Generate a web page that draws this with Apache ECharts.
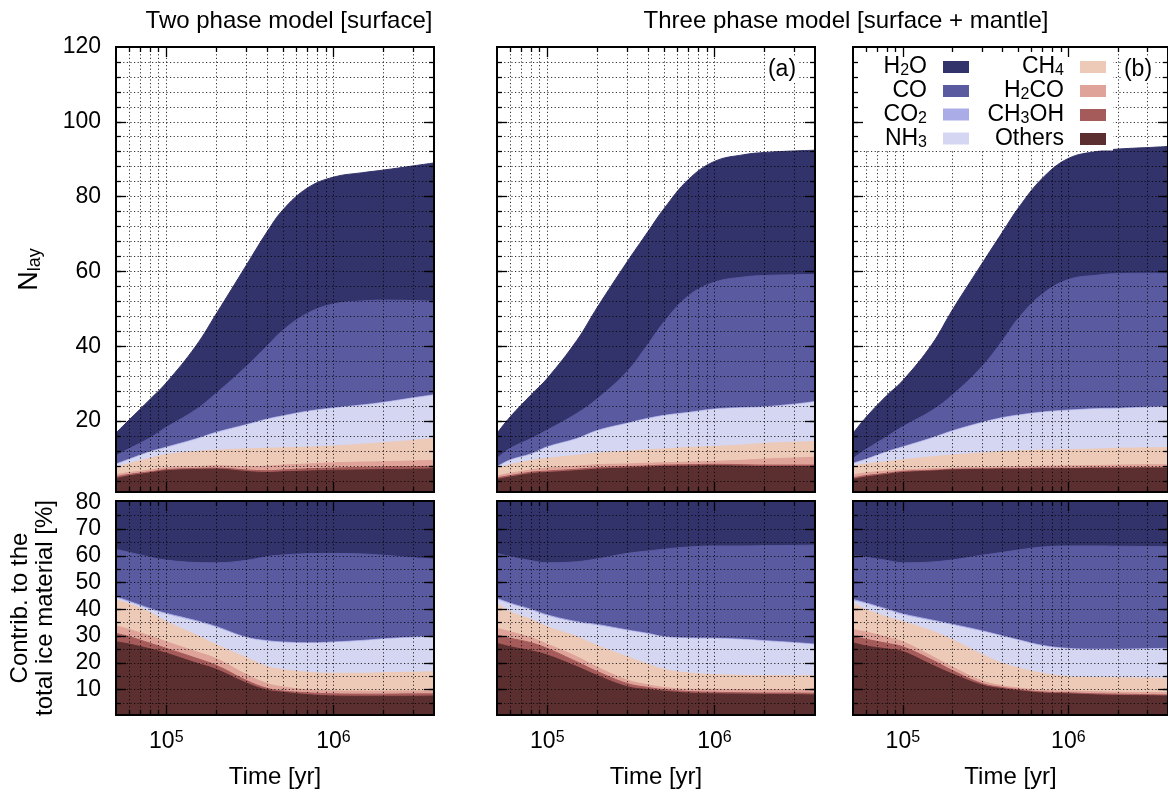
<!DOCTYPE html>
<html>
<head>
<meta charset="utf-8">
<script src="https://cdn.jsdelivr.net/npm/echarts@6.0.0/dist/echarts.min.js"></script>
<style>
html,body{margin:0;padding:0;background:#ffffff;}
#chart{width:1168px;height:792px;}
</style>
</head>
<body>
<div id="chart"></div>
<script>
// ================= DATA =================
const times = [5e4, 6e4, 8e4, 1e5, 1.5e5, 2e5, 3e5, 4e5, 5e5, 7e5, 1e6, 1.5e6, 2e6, 3e6, 4e6];
const species = ['H2O', 'CO', 'CO2', 'NH3', 'CH4', 'H2CO', 'CH3OH', 'Others'];
const xMajorTicks = [1e5, 1e6];
const xMinorTicks = [6e4, 7e4, 8e4, 9e4, 2e5, 3e5, 4e5, 5e5, 6e5, 7e5, 8e5, 9e5, 2e6, 3e6];
const nlayLabels = [20, 40, 60, 80, 100, 120];
const pctLabels = [10, 20, 30, 40, 50, 60, 70, 80];

// --- Two phase model, N_lay ---
const two_N_H2O   = [6.1, 7.7, 10.3, 11.9, 17, 21.3, 27, 30.5, 32.2, 33.5, 33.9, 34.3, 34.8, 36, 37];
const two_N_CO    = [2.2, 2.8, 3.7, 5.3, 7.8, 10.5, 15.5, 19.5, 22.9, 26.2, 27.8, 27.8, 27.3, 26.0, 25.0];
const two_N_CO2   = [0.2, 0.2, 0.2, 0.2, 0.2, 0.2, 0.2, 0.2, 0.2, 0.2, 0.2, 0.2, 0.2, 0.2, 0.2];
const two_N_NH3   = [0.7, 1.0, 1.6, 1.8, 3.2, 4.6, 6.3, 7.6, 8.4, 9.4, 10.0, 10.3, 10.6, 11.2, 11.5];
const two_N_CH4   = [1.9, 2.4, 3.1, 3.5, 4.0, 4.2, 4.7, 4.8, 4.6, 4.5, 4.5, 4.8, 5.1, 5.5, 5.8];
const two_N_H2CO  = [0.6, 0.5, 0.5, 0.5, 0.5, 0.6, 0.9, 1.2, 1.3, 1.3, 1.4, 1.4, 1.4, 1.5, 1.6];
const two_N_CH3OH = [0.5, 0.4, 0.3, 0.3, 0.3, 0.3, 0.4, 0.5, 0.5, 0.6, 0.6, 0.7, 0.7, 0.7, 0.7];
const two_N_Others= [4.6, 5.3, 6.1, 6.7, 7.0, 7.1, 6.5, 6.2, 6.4, 6.6, 6.8, 6.9, 7.0, 7.1, 7.2];
// --- Two phase model, contribution [%] ---
const two_P_H2O   = [37.6, 38.7, 40.5, 41.6, 42.5, 42.6, 41.7, 40.3, 39.7, 39.2, 39.1, 39.3, 39.8, 40.7, 41.2];
const two_P_CO    = [17.7, 18.3, 19.2, 19.9, 21.7, 23.9, 28.7, 31.4, 32.5, 33.3, 33.1, 32.3, 31.2, 29.7, 29];
const two_P_CO2   = [0.5, 0.4, 0.4, 0.4, 0.4, 0.4, 0.3, 0.3, 0.3, 0.3, 0.3, 0.3, 0.3, 0.3, 0.3];
const two_P_NH3   = [0.7, 0.6, 1.1, 2.7, 4.9, 6.4, 7.3, 9.4, 10, 10.7, 11.4, 12, 12.4, 12.8, 12.8];
const two_P_CH4   = [9.7, 9.5, 8.8, 7.5, 6.3, 5.2, 6.3, 6.3, 6.5, 6.6, 6.6, 6.7, 6.9, 7.0, 7.2];
const two_P_H2CO  = [2.8, 2.7, 2.7, 2.5, 2.4, 2.5, 2.2, 1.8, 1.5, 1.1, 1.1, 1.1, 1.1, 1.1, 1.1];
const two_P_CH3OH = [3.1, 2.8, 2.1, 1.8, 1.8, 1.5, 1.0, 0.7, 0.5, 0.7, 0.8, 0.8, 0.8, 0.9, 0.8];
const two_P_Others= [27.9, 27, 25.2, 23.6, 20, 17.5, 12.5, 9.8, 9, 8.1, 7.6, 7.5, 7.5, 7.5, 7.6];

// --- Three phase model (a), N_lay ---
const threeA_N_H2O   = [6.7, 8.4, 11.7, 13.8, 19.5, 24.5, 29.3, 30.1, 30.3, 31.1, 32.3, 32.7, 32.9, 33.1, 33.2];
const threeA_N_CO    = [2.2, 3.1, 4.1, 4.5, 6.7, 8.5, 13.8, 19.8, 25, 31.2, 33.9, 34.9, 35.1, 34.6, 34];
const threeA_N_CO2   = [0.2, 0.2, 0.2, 0.2, 0.2, 0.2, 0.2, 0.2, 0.2, 0.2, 0.2, 0.2, 0.2, 0.2, 0.2];
const threeA_N_NH3   = [0.2, 1.1, 1.6, 2.9, 4.3, 5.9, 7.3, 8.2, 8.8, 9.2, 9.8, 9.8, 9.6, 10.0, 10.5];
const threeA_N_CH4   = [2.1, 2.3, 2.5, 2.6, 2.9, 3.1, 3.4, 3.6, 3.7, 3.9, 4.0, 4.1, 4.2, 4.2, 4.2];
const threeA_N_H2CO  = [0.5, 0.6, 0.6, 0.8, 0.8, 0.8, 0.7, 0.7, 0.6, 0.7, 0.8, 1.2, 1.6, 1.9, 2.1];
const threeA_N_CH3OH = [0.4, 0.4, 0.4, 0.4, 0.4, 0.4, 0.4, 0.4, 0.4, 0.4, 0.4, 0.4, 0.4, 0.4, 0.4];
const threeA_N_Others= [4.4, 5.0, 5.9, 6.2, 6.7, 7.1, 7.4, 7.6, 7.8, 7.9, 8.0, 7.9, 7.8, 7.8, 7.8];
// --- Three phase model (a), contribution [%] ---
const threeA_P_H2O   = [39.1, 40.3, 41.8, 42.6, 42.2, 41.1, 39.1, 38.2, 37.5, 36.7, 36.3, 36.3, 36.2, 36.1, 36];
const threeA_P_CO    = [16.8, 17.4, 18.2, 19.5, 22.4, 24.6, 28.6, 30.8, 32.7, 34, 34.5, 34.9, 35.5, 36.3, 37];
const threeA_P_CO2   = [0.5, 0.4, 0.4, 0.4, 0.4, 0.4, 0.3, 0.3, 0.3, 0.3, 0.3, 0.3, 0.3, 0.3, 0.3];
const threeA_P_NH3   = [1.3, 2.8, 3.4, 4.0, 5.2, 7.5, 9.7, 11.2, 11.9, 12.8, 13.3, 13.2, 12.8, 12.1, 11.5];
const threeA_P_CH4   = [9.4, 7.5, 6.8, 6.5, 7.5, 8.1, 8.7, 7.7, 6.8, 6.1, 5.5, 5.3, 5.2, 5.3, 5.4];
const threeA_P_H2CO  = [2.5, 2.4, 1.9, 1.6, 1.9, 1.6, 1.3, 1.0, 0.8, 0.8, 1.1, 1.2, 1.3, 1.2, 1.2];
const threeA_P_CH3OH = [3.1, 3.2, 3.0, 2.5, 1.8, 1.5, 1.2, 0.8, 0.6, 0.6, 0.6, 0.5, 0.5, 0.6, 0.6];
const threeA_P_Others= [27.3, 26, 24.5, 22.9, 18.6, 15.2, 11.1, 10, 9.4, 8.7, 8.4, 8.3, 8.2, 8.1, 8];

// --- Three phase model (b), N_lay ---
const threeB_N_H2O   = [6.7, 8.6, 11, 12.3, 17.7, 22.8, 27.5, 29, 29.5, 31, 32.4, 33.1, 33.3, 33.6, 33.9];
const threeB_N_CO    = [1.3, 2.6, 4.0, 5.4, 7.3, 9.6, 14.9, 20.6, 25.9, 31.6, 34.9, 35.7, 36.0, 35.8, 35.7];
const threeB_N_CO2   = [0.2, 0.2, 0.2, 0.2, 0.2, 0.2, 0.2, 0.2, 0.2, 0.2, 0.2, 0.2, 0.2, 0.2, 0.2];
const threeB_N_NH3   = [0.5, 1.1, 2.5, 3.3, 4.9, 6.3, 8.0, 8.9, 9.4, 10.0, 10.4, 10.6, 10.5, 10.7, 10.7];
const threeB_N_CH4   = [2.4, 2.4, 2.5, 2.7, 3.2, 3.5, 3.8, 4.1, 4.2, 4.3, 4.3, 4.4, 4.5, 4.5, 4.6];
const threeB_N_H2CO  = [0.8, 0.7, 0.6, 0.4, 0.4, 0.3, 0.4, 0.4, 0.5, 0.5, 0.6, 0.6, 0.7, 0.7, 0.7];
const threeB_N_CH3OH = [0.4, 0.4, 0.3, 0.3, 0.2, 0.2, 0.2, 0.2, 0.2, 0.2, 0.2, 0.2, 0.2, 0.2, 0.2];
const threeB_N_Others= [4.4, 5.0, 5.7, 6.2, 6.6, 6.9, 7.0, 7.1, 7.1, 7.2, 7.2, 7.3, 7.3, 7.4, 7.4];
// --- Three phase model (b), contribution [%] ---
const threeB_P_H2O   = [39.7, 40.5, 41.7, 42.6, 42.3, 41.5, 39.8, 38.7, 37.8, 36.7, 36.3, 36.3, 36.4, 36.5, 36.6];
const threeB_P_CO    = [16.6, 17.1, 18.2, 19.1, 21.7, 24.1, 28.2, 31.2, 33.6, 36.8, 38.3, 38.6, 38.5, 38.2, 38];
const threeB_P_CO2   = [0.5, 0.4, 0.4, 0.4, 0.4, 0.4, 0.3, 0.3, 0.3, 0.3, 0.3, 0.3, 0.3, 0.3, 0.3];
const threeB_P_NH3   = [0.9, 2.1, 2.6, 2.5, 3.7, 5.4, 8.5, 10.0, 10.2, 10.1, 10.3, 10.3, 10.4, 10.7, 10.9];
const threeB_P_CH4   = [9.8, 8.4, 7.5, 7.5, 9.4, 10.2, 9.9, 8.4, 7.5, 6.4, 5.3, 5.3, 5.4, 5.4, 5.4];
const threeB_P_H2CO  = [2.7, 2.7, 2.3, 1.9, 1.4, 1.3, 1.0, 0.6, 0.6, 0.6, 0.7, 0.8, 0.7, 0.8, 0.8];
const threeB_P_CH3OH = [2.3, 2.5, 2.1, 1.8, 1.9, 1.3, 0.6, 0.5, 0.4, 0.4, 0.4, 0.4, 0.5, 0.4, 0.4];
const threeB_P_Others= [27.5, 26.3, 25.2, 24.2, 19.2, 15.8, 11.7, 10.3, 9.6, 8.7, 8.4, 8.0, 7.8, 7.7, 7.6];

// ================= STYLE / LAYOUT =================
const FONT = '"Liberation Sans", Arial, Helvetica, sans-serif';
const colors = {H2O:'#33336b', CO:'#5a5aa1', CO2:'#a9ace6', NH3:'#d5d6f1',
                CH4:'#edcab7', H2CO:'#dfa399', CH3OH:'#a65b5b', Others:'#5b2e2f'};
const stackOrder = ['Others', 'CH3OH', 'H2CO', 'CH4', 'NH3', 'CO2', 'CO', 'H2O']; // bottom -> top

const panelData = [
  [
    {H2O:two_N_H2O, CO:two_N_CO, CO2:two_N_CO2, NH3:two_N_NH3, CH4:two_N_CH4, H2CO:two_N_H2CO, CH3OH:two_N_CH3OH, Others:two_N_Others},
    {H2O:two_P_H2O, CO:two_P_CO, CO2:two_P_CO2, NH3:two_P_NH3, CH4:two_P_CH4, H2CO:two_P_H2CO, CH3OH:two_P_CH3OH, Others:two_P_Others}
  ],
  [
    {H2O:threeA_N_H2O, CO:threeA_N_CO, CO2:threeA_N_CO2, NH3:threeA_N_NH3, CH4:threeA_N_CH4, H2CO:threeA_N_H2CO, CH3OH:threeA_N_CH3OH, Others:threeA_N_Others},
    {H2O:threeA_P_H2O, CO:threeA_P_CO, CO2:threeA_P_CO2, NH3:threeA_P_NH3, CH4:threeA_P_CH4, H2CO:threeA_P_H2CO, CH3OH:threeA_P_CH3OH, Others:threeA_P_Others}
  ],
  [
    {H2O:threeB_N_H2O, CO:threeB_N_CO, CO2:threeB_N_CO2, NH3:threeB_N_NH3, CH4:threeB_N_CH4, H2CO:threeB_N_H2CO, CH3OH:threeB_N_CH3OH, Others:threeB_N_Others},
    {H2O:threeB_P_H2O, CO:threeB_P_CO, CO2:threeB_P_CO2, NH3:threeB_P_NH3, CH4:threeB_P_CH4, H2CO:threeB_P_H2CO, CH3OH:threeB_P_CH3OH, Others:threeB_P_Others}
  ]
];

const tMin = 5e4, tMax = 4e6;
const colLeft = [116, 497, 853];
const panelW = 318;
const rowTop = [47, 501];
const rowH = [445, 214];
const yRange = [{min: 1, max: 120}, {min: 0.5, max: 80.5}];

function range(a, b, s) { const r = []; for (let v = a; v <= b + 1e-9; v += s) r.push(v); return r; }
const yGridVals = [range(4, 116, 4), range(5, 75, 5)];
const yMajorTicks = [[20, 40, 60, 80, 100], [10, 20, 30, 40, 50, 60, 70]];
const yLabelVals = [nlayLabels, pctLabels];

const lx0 = Math.log10(tMin), lx1 = Math.log10(tMax);
const xMinorLog = xMinorTicks.map(Math.log10);
const xMajorLog = xMajorTicks.map(Math.log10);
const xGridLog = xMinorLog.concat(xMajorLog);

const dotted = {color: '#000', width: 1, type: [1.2, 2.4], opacity: 0.8};
const tickLine = {color: '#000', width: 1.3};

function chemRich(name) {
  return name.match(/\d+|\D+/g).map(p => /\d/.test(p) ? '{s|' + p + '}' : '{n|' + p + '}').join('');
}

const grids = [], xAxes = [], yAxes = [], series = [];

function tickAxisX(g, pos, vals, len, extra) {
  return Object.assign({
    type: 'value', gridIndex: g, min: lx0, max: lx1, position: pos, z: 10, silent: true,
    axisLine: {show: true, onZero: false, lineStyle: {color: '#000', width: 2}},
    axisTick: {show: true, inside: true, length: len, customValues: vals, lineStyle: tickLine},
    axisLabel: {show: false}, splitLine: {show: false}
  }, extra || {});
}
function tickAxisY(g, r, pos, vals, len, extra) {
  return Object.assign({
    type: 'value', gridIndex: g, min: yRange[r].min, max: yRange[r].max, position: pos, z: 10, silent: true,
    axisLine: {show: true, onZero: false, lineStyle: {color: '#000', width: 2}},
    axisTick: {show: true, inside: true, length: len, customValues: vals, lineStyle: tickLine},
    axisLabel: {show: false}, splitLine: {show: false}
  }, extra || {});
}

for (let r = 0; r < 2; r++) {
  for (let c = 0; c < 3; c++) {
    const g = grids.length;
    grids.push({left: colLeft[c], top: rowTop[r], width: panelW, height: rowH[r], containLabel: false});
    const xi = xAxes.length, yi = yAxes.length;
    // data axes
    xAxes.push({type: 'log', logBase: 10, gridIndex: g, min: tMin, max: tMax, show: false});
    yAxes.push({type: 'value', gridIndex: g, min: yRange[r].min, max: yRange[r].max, show: false});
    // dotted grid lines
    xAxes.push({type: 'value', gridIndex: g, min: lx0, max: lx1, position: 'bottom', z: 5, silent: true,
      axisLine: {show: false, onZero: false}, axisTick: {show: false, customValues: xGridLog},
      axisLabel: {show: false}, splitLine: {show: true, lineStyle: dotted}});
    yAxes.push({type: 'value', gridIndex: g, min: yRange[r].min, max: yRange[r].max, position: 'left', z: 5, silent: true,
      axisLine: {show: false, onZero: false}, axisTick: {show: false, customValues: yGridVals[r]},
      axisLabel: {show: false}, splitLine: {show: true, lineStyle: dotted}});
    // tick axes
    xAxes.push(tickAxisX(g, 'bottom', xMinorLog, 5));
    const bottomMajorExtra = {};
    if (r === 1) {
      bottomMajorExtra.axisLabel = {
        show: true, customValues: xMajorLog, margin: 15,
        formatter: v => '{b|10}{p|' + Math.round(v) + '}',
        rich: {
          b: {fontSize: 23, lineHeight: 24, fontFamily: FONT, color: '#000'},
          p: {fontSize: 16, lineHeight: 4, verticalAlign: 'top', fontFamily: FONT, color: '#000'}
        }
      };
      bottomMajorExtra.name = 'Time [yr]';
      bottomMajorExtra.nameLocation = 'middle';
      bottomMajorExtra.nameGap = 50;
      bottomMajorExtra.nameTextStyle = {fontSize: 24, fontFamily: FONT, color: '#000'};
    }
    xAxes.push(tickAxisX(g, 'bottom', xMajorLog, 10, bottomMajorExtra));
    xAxes.push(tickAxisX(g, 'top', xMinorLog, 5));
    xAxes.push(tickAxisX(g, 'top', xMajorLog, 10));

    yAxes.push(tickAxisY(g, r, 'left', yGridVals[r], 5));
    const leftMajorExtra = {};
    if (c === 0) {
      leftMajorExtra.axisLabel = {show: true, customValues: yLabelVals[r], margin: 15,
        fontSize: 23, fontFamily: FONT, color: '#000'};
      leftMajorExtra.nameLocation = 'middle';
      if (r === 0) {
        leftMajorExtra.name = '{n|N}{s|lay}';
        leftMajorExtra.nameGap = 72;
        leftMajorExtra.nameTextStyle = {rich: {
          n: {fontSize: 27, lineHeight: 28, fontFamily: FONT, color: '#000'},
          s: {fontSize: 18, lineHeight: 6, verticalAlign: 'bottom', fontFamily: FONT, color: '#000'}
        }};
      } else {
        leftMajorExtra.name = 'Contrib. to the\ntotal ice material [%]';
        leftMajorExtra.nameGap = 58;
        leftMajorExtra.nameTextStyle = {fontSize: 24, lineHeight: 25, fontFamily: FONT, color: '#000'};
      }
    }
    yAxes.push(tickAxisY(g, r, 'left', yMajorTicks[r], 10, leftMajorExtra));
    yAxes.push(tickAxisY(g, r, 'right', yGridVals[r], 5));
    yAxes.push(tickAxisY(g, r, 'right', yMajorTicks[r], 10));

    // stacked areas: cumulative boundaries, drawn from the top band down
    const d = panelData[c][r];
    const cum = {};
    let running = times.map(() => 0);
    stackOrder.forEach(k => {
      running = running.map((v, i) => v + d[k][i]);
      cum[k] = running.slice();
    });
    stackOrder.slice().reverse().forEach(k => {
      series.push({
        name: k, type: 'line', xAxisIndex: xi, yAxisIndex: yi,
        data: times.map((t, i) => [t, cum[k][i]]),
        smooth: 0.4, symbol: 'none', showSymbol: false, silent: true,
        lineStyle: {width: 1, color: colors[k]},
        areaStyle: {color: colors[k], opacity: 1, origin: 'start'},
        itemStyle: {color: colors[k]},
        z: 2
      });
    });
  }
}

const legendText = {
  rich: {
    n: {fontSize: 23, lineHeight: 24, fontFamily: FONT, color: '#000'},
    s: {fontSize: 16, lineHeight: 4, verticalAlign: 'bottom', fontFamily: FONT, color: '#000'},
    g: {width: 11}
  }
};
function legendCol(names, right, pad) {
  return {
    data: names, orient: 'vertical', right: right, top: 48, padding: pad,
    itemWidth: 26, itemHeight: 12, itemGap: 0.5, align: 'right', icon: 'rect',
    selectedMode: false, z: 8, backgroundColor: '#ffffff',
    formatter: n => chemRich(n) + '{g| }',
    textStyle: legendText
  };
}

const option = {
  animation: false,
  backgroundColor: '#ffffff',
  grid: grids,
  xAxis: xAxes,
  yAxis: yAxes,
  series: series,
  legend: [
    legendCol(species.slice(0, 4), 1168 - 979, [7.5, 10, 0, 40]),
    legendCol(species.slice(4), 1168 - 1113, [7.5, 7, 0, 15])
  ],
  title: [
    {text: 'Two phase model [surface]', left: 289, top: 9, textAlign: 'center', padding: 0,
     textStyle: {fontSize: 24, fontWeight: 'normal', fontFamily: FONT, color: '#000'}},
    {text: 'Three phase model [surface + mantle]', left: 846, top: 9, textAlign: 'center', padding: 0,
     textStyle: {fontSize: 24, fontWeight: 'normal', fontFamily: FONT, color: '#000'}},
    {text: '(a)', left: 779, top: 57, textAlign: 'center', padding: [1, 3, 1, 3], backgroundColor: '#fff', z: 8,
     textStyle: {fontSize: 23, fontWeight: 'normal', fontFamily: FONT, color: '#000'}},
    {text: '(b)', left: 1135, top: 57, textAlign: 'center', padding: [1, 3, 1, 3], backgroundColor: '#fff', z: 8,
     textStyle: {fontSize: 23, fontWeight: 'normal', fontFamily: FONT, color: '#000'}}
  ]
};

const chart = echarts.init(document.getElementById('chart'), null, {renderer: 'canvas'});
chart.setOption(option);
</script>
</body>
</html>
